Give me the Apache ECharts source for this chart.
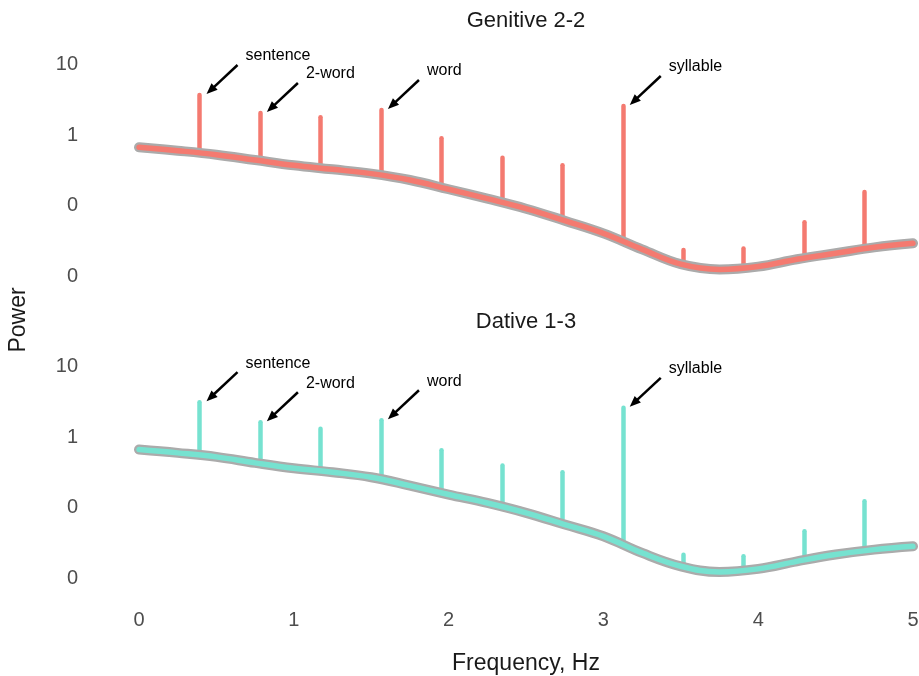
<!DOCTYPE html>
<html>
<head>
    <meta charset="utf-8" />
    <script src="https://cdn.jsdelivr.net/npm/echarts@6/dist/echarts.min.js"></script>
    <title></title>
    <style>
        html, body { margin: 0; padding: 0; background: #fff; }
        #main { width: 919px; height: 676px; }
    </style>
</head>
<body>
    <div id="main"></div>
    <script type="text/javascript">
        // 频率轴 (Hz)
        var freqs = [0, 0.25, 0.5, 0.75, 1.0, 1.25, 1.5, 1.75, 2.0, 2.25, 2.5, 2.75, 3.0, 3.25, 3.5, 3.75, 4.0, 4.25, 4.5, 4.75, 5.0];
        // 背景功率曲线
        var genitiveBase = [0.669, 0.599, 0.526, 0.442, 0.372, 0.326, 0.283, 0.230, 0.170, 0.125, 0.0901, 0.0609, 0.0403, 0.0239, 0.0147, 0.0124, 0.0136, 0.0173, 0.0210, 0.0255, 0.0291];
        var dativeBase = [0.669, 0.600, 0.527, 0.433, 0.363, 0.319, 0.271, 0.206, 0.154, 0.117, 0.0847, 0.0578, 0.0394, 0.0229, 0.0148, 0.0123, 0.0136, 0.0174, 0.0217, 0.0255, 0.0284];
        // 峰值位置
        var peakFreqs = [0.391, 0.781, 1.172, 1.563, 1.953, 2.344, 2.734, 3.125, 3.516, 3.906, 4.297, 4.688];
        var genitivePeak = [3.69, 2.05, 1.78, 2.26, 0.898, 0.476, 0.372, 2.58, 0.0234, 0.0245, 0.0578, 0.155];
        var genitivePeakBase = [0.537, 0.418, 0.326, 0.256, 0.166, 0.105, 0.068, 0.0324, 0.0143, 0.0136, 0.0185, 0.0262];
        var dativePeak = [3.14, 1.63, 1.32, 1.74, 0.654, 0.397, 0.319, 2.61, 0.0215, 0.0205, 0.0465, 0.124];
        var dativePeakBase = [0.55, 0.41, 0.319, 0.251, 0.159, 0.0995, 0.0697, 0.0336, 0.0141, 0.0141, 0.0190, 0.0260];
        // 标注
        var noteLabels = ['sentence', '2-word', 'word', 'syllable'];
        var notePeakIndex = [0, 1, 3, 7];

        var redColor = '#F47A70';
        var tealColor = '#76E2D0';
        var grayColor = '#ABABAB';
        var fontName = '"Liberation Sans", Arial, sans-serif';

        function pairs(xs, ys) {
            var out = [];
            for (var i = 0; i < xs.length; i++) out.push([xs[i], ys[i]]);
            return out;
        }
        function spikes(base, peak) {
            var out = [];
            for (var i = 0; i < peakFreqs.length; i++) {
                out.push({ coords: [[peakFreqs[i], base[i]], [peakFreqs[i], peak[i]]] });
            }
            return out;
        }

        var myChart = echarts.init(document.getElementById('main'), null, { renderer: 'canvas' });

        function makeX(idx, show) {
            return {
                type: 'value', gridIndex: idx, min: 0, max: 5, interval: 1,
                axisLine: { show: false }, axisTick: { show: false }, splitLine: { show: false },
                axisLabel: { show: show, margin: 32, fontSize: 20, color: '#4D4D4D', fontFamily: fontName },
                name: show ? 'Frequency, Hz' : '',
                nameLocation: 'middle', nameGap: 74,
                nameTextStyle: { fontSize: 23, color: '#1a1a1a', fontFamily: fontName }
            };
        }
        function makeY(idx) {
            return {
                type: 'log', logBase: 10, gridIndex: idx, min: 0.01, max: 10,
                axisLine: { show: false }, axisTick: { show: false }, splitLine: { show: false },
                axisLabel: {
                    margin: 61, fontSize: 20, color: '#4D4D4D', fontFamily: fontName,
                    formatter: function (v) { return String(Math.round(v)); }
                }
            };
        }
        function baseSeries(idx, data, color, width) {
            return {
                type: 'line', xAxisIndex: idx, yAxisIndex: idx, data: pairs(freqs, data),
                smooth: 0.4, showSymbol: false, silent: true,
                lineStyle: { color: color, width: width, cap: 'round', join: 'round' }
            };
        }
        function spikeSeries(idx, base, peak, color) {
            return {
                type: 'lines', coordinateSystem: 'cartesian2d', xAxisIndex: idx, yAxisIndex: idx,
                data: spikes(base, peak), silent: true,
                lineStyle: { color: color, width: 4.5, opacity: 1, curveness: 0, cap: 'round' }
            };
        }

        var option = {
            animation: false,
            grid: [
                { left: 139, right: 6, top: 64.5, height: 211.5, outerBoundsMode: 'none', containLabel: false },
                { left: 139, right: 6, top: 366.7, height: 211.6, outerBoundsMode: 'none', containLabel: false }
            ],
            xAxis: [makeX(0, false), makeX(1, true)],
            yAxis: [makeY(0), makeY(1)],
            series: [
                baseSeries(0, genitiveBase, grayColor, 10),
                baseSeries(0, genitiveBase, redColor, 5.5),
                spikeSeries(0, genitivePeakBase, genitivePeak, redColor),
                baseSeries(1, dativeBase, grayColor, 10),
                baseSeries(1, dativeBase, tealColor, 5.5),
                spikeSeries(1, dativePeakBase, dativePeak, tealColor)
            ]
        };
        myChart.setOption(option);

        // 标题、纵轴名称与箭头标注
        (function () {
            var elements = [];
            var titles = ['Genitive 2-2', 'Dative 1-3'];
            var titleY = [21, 322];
            for (var t = 0; t < 2; t++) {
                elements.push({
                    type: 'text', x: 526, y: titleY[t],
                    style: { text: titles[t], fontSize: 22, fill: '#1a1a1a', fontFamily: fontName, align: 'center', verticalAlign: 'middle' }
                });
            }
            elements.push({
                type: 'text', x: 19, y: 320, rotation: Math.PI / 2,
                style: { text: 'Power', fontSize: 23, fill: '#1a1a1a', fontFamily: fontName, align: 'center', verticalAlign: 'middle' }
            });

            var peaks = [genitivePeak, dativePeak];
            for (var g = 0; g < 2; g++) {
                for (var n = 0; n < noteLabels.length; n++) {
                    var k = notePeakIndex[n];
                    var p = myChart.convertToPixel({ gridIndex: g }, [peakFreqs[k], peaks[g][k]]);
                    var tip = [p[0] + 7, p[1] - 1];
                    var tail = [p[0] + 38, p[1] - 30];
                    var dx = tip[0] - tail[0], dy = tip[1] - tail[1];
                    var len = Math.sqrt(dx * dx + dy * dy);
                    var ux = dx / len, uy = dy / len;
                    var hl = 11, hw = 4.5;
                    var bx = tip[0] - ux * hl, by = tip[1] - uy * hl;
                    elements.push({
                        type: 'line',
                        shape: { x1: tail[0], y1: tail[1], x2: bx + ux * 2, y2: by + uy * 2 },
                        style: { stroke: '#000', lineWidth: 2.5 }
                    });
                    elements.push({
                        type: 'polygon',
                        shape: { points: [tip, [bx - uy * hw, by + ux * hw], [bx + uy * hw, by - ux * hw]] },
                        style: { fill: '#000' }
                    });
                    elements.push({
                        type: 'text', x: p[0] + 46, y: p[1] - 39,
                        style: { text: noteLabels[n], fontSize: 16, fill: '#000', fontFamily: fontName, align: 'left', verticalAlign: 'middle' }
                    });
                }
            }
            myChart.setOption({ graphic: elements });
        })();
    </script>
</body>
</html>
